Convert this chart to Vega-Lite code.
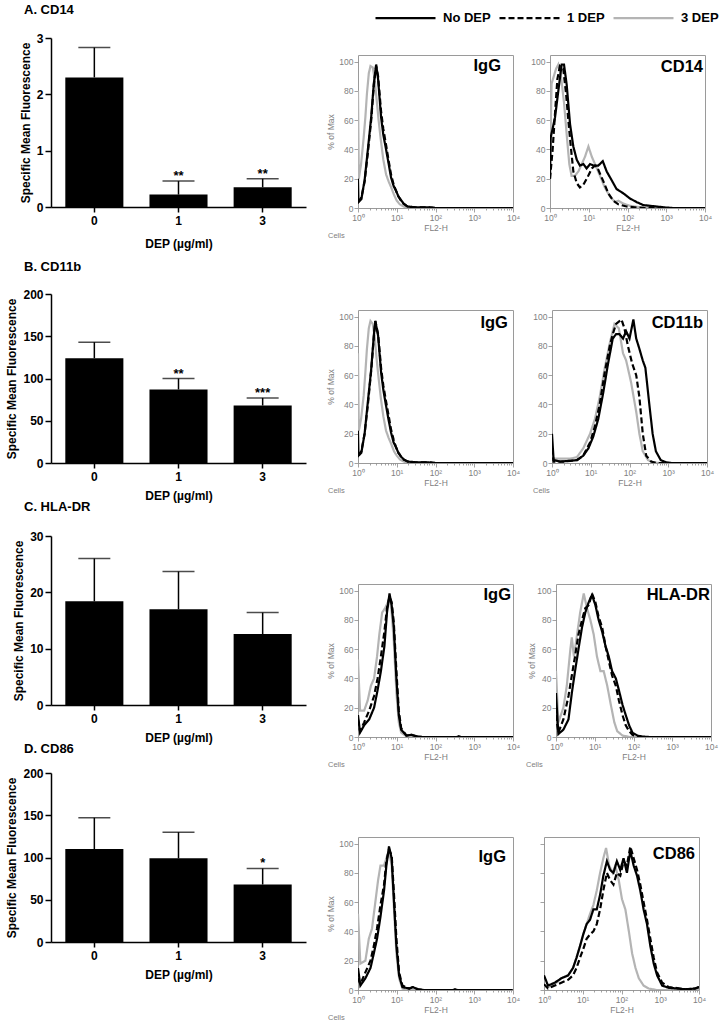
{
"$schema":"https://vega.github.io/schema/vega-lite/v6.json",
"background":"white",
"padding":{"left":5,"top":-14,"right":5,"bottom":2},
"datasets":{
"bars":[
{"panel":"A","dep":"0","mean":2.3,"upper":2.83,"sig":""},
{"panel":"A","dep":"1","mean":0.22,"upper":0.46,"sig":"**"},
{"panel":"A","dep":"3","mean":0.35,"upper":0.5,"sig":"**"},
{"panel":"B","dep":"0","mean":124,"upper":143,"sig":""},
{"panel":"B","dep":"1","mean":87,"upper":100,"sig":"**"},
{"panel":"B","dep":"3","mean":68,"upper":77,"sig":"***"},
{"panel":"C","dep":"0","mean":18.4,"upper":26,"sig":""},
{"panel":"C","dep":"1","mean":17,"upper":23.7,"sig":""},
{"panel":"C","dep":"3","mean":12.6,"upper":16.4,"sig":""},
{"panel":"D","dep":"0","mean":110,"upper":147,"sig":""},
{"panel":"D","dep":"1","mean":99,"upper":130,"sig":""},
{"panel":"D","dep":"3","mean":68,"upper":87,"sig":"*"}
],
"hist":[
{"panel":"A1","dep":"3 DEP","fl":1,"pct":80},{"panel":"A1","dep":"3 DEP","fl":1.05,"pct":20},{"panel":"A1","dep":"3 DEP","fl":1.2,"pct":30},{"panel":"A1","dep":"3 DEP","fl":1.4,"pct":48},{"panel":"A1","dep":"3 DEP","fl":1.55,"pct":62},{"panel":"A1","dep":"3 DEP","fl":1.7,"pct":78},{"panel":"A1","dep":"3 DEP","fl":1.9,"pct":92},{"panel":"A1","dep":"3 DEP","fl":2.1,"pct":97},{"panel":"A1","dep":"3 DEP","fl":2.4,"pct":96},{"panel":"A1","dep":"3 DEP","fl":2.7,"pct":88},{"panel":"A1","dep":"3 DEP","fl":3,"pct":75},{"panel":"A1","dep":"3 DEP","fl":3.4,"pct":60},{"panel":"A1","dep":"3 DEP","fl":3.9,"pct":46},{"panel":"A1","dep":"3 DEP","fl":4.5,"pct":33},{"panel":"A1","dep":"3 DEP","fl":5.3,"pct":23},{"panel":"A1","dep":"3 DEP","fl":6.2,"pct":18},{"panel":"A1","dep":"3 DEP","fl":7.2,"pct":14},{"panel":"A1","dep":"3 DEP","fl":8.5,"pct":9},{"panel":"A1","dep":"3 DEP","fl":10,"pct":5},{"panel":"A1","dep":"3 DEP","fl":12,"pct":2.5},{"panel":"A1","dep":"3 DEP","fl":15,"pct":1},{"panel":"A1","dep":"3 DEP","fl":20,"pct":0},{"panel":"A1","dep":"3 DEP","fl":10000,"pct":0},
{"panel":"A1","dep":"1 DEP","fl":1,"pct":4},{"panel":"A1","dep":"1 DEP","fl":1.22,"pct":7},{"panel":"A1","dep":"1 DEP","fl":1.48,"pct":18},{"panel":"A1","dep":"1 DEP","fl":1.8,"pct":38},{"panel":"A1","dep":"1 DEP","fl":2.19,"pct":60},{"panel":"A1","dep":"1 DEP","fl":2.56,"pct":84},{"panel":"A1","dep":"1 DEP","fl":2.94,"pct":97},{"panel":"A1","dep":"1 DEP","fl":3.3,"pct":90},{"panel":"A1","dep":"1 DEP","fl":3.94,"pct":66},{"panel":"A1","dep":"1 DEP","fl":4.5,"pct":54},{"panel":"A1","dep":"1 DEP","fl":5.3,"pct":43},{"panel":"A1","dep":"1 DEP","fl":6.2,"pct":32},{"panel":"A1","dep":"1 DEP","fl":7.1,"pct":23},{"panel":"A1","dep":"1 DEP","fl":8.3,"pct":16},{"panel":"A1","dep":"1 DEP","fl":9.5,"pct":12},{"panel":"A1","dep":"1 DEP","fl":11,"pct":8},{"panel":"A1","dep":"1 DEP","fl":12.8,"pct":5},{"panel":"A1","dep":"1 DEP","fl":15,"pct":3},{"panel":"A1","dep":"1 DEP","fl":19,"pct":1},{"panel":"A1","dep":"1 DEP","fl":30,"pct":0.5},{"panel":"A1","dep":"1 DEP","fl":70,"pct":0.5},{"panel":"A1","dep":"1 DEP","fl":100,"pct":0},{"panel":"A1","dep":"1 DEP","fl":10000,"pct":0},
{"panel":"A1","dep":"No DEP","fl":1,"pct":20},{"panel":"A1","dep":"No DEP","fl":1.03,"pct":4},{"panel":"A1","dep":"No DEP","fl":1.22,"pct":6},{"panel":"A1","dep":"No DEP","fl":1.48,"pct":19},{"panel":"A1","dep":"No DEP","fl":1.8,"pct":40},{"panel":"A1","dep":"No DEP","fl":2.19,"pct":62},{"panel":"A1","dep":"No DEP","fl":2.56,"pct":85},{"panel":"A1","dep":"No DEP","fl":2.94,"pct":98},{"panel":"A1","dep":"No DEP","fl":3.3,"pct":88},{"panel":"A1","dep":"No DEP","fl":3.94,"pct":62},{"panel":"A1","dep":"No DEP","fl":4.5,"pct":50},{"panel":"A1","dep":"No DEP","fl":5.3,"pct":40},{"panel":"A1","dep":"No DEP","fl":6.2,"pct":30},{"panel":"A1","dep":"No DEP","fl":7.1,"pct":21},{"panel":"A1","dep":"No DEP","fl":8.3,"pct":15},{"panel":"A1","dep":"No DEP","fl":9.5,"pct":12},{"panel":"A1","dep":"No DEP","fl":11,"pct":8},{"panel":"A1","dep":"No DEP","fl":12.8,"pct":5.6},{"panel":"A1","dep":"No DEP","fl":15,"pct":3},{"panel":"A1","dep":"No DEP","fl":19,"pct":1},{"panel":"A1","dep":"No DEP","fl":30,"pct":0.5},{"panel":"A1","dep":"No DEP","fl":60,"pct":0.5},{"panel":"A1","dep":"No DEP","fl":100,"pct":0},{"panel":"A1","dep":"No DEP","fl":10000,"pct":0},

{"panel":"A2","dep":"3 DEP","fl":1,"pct":30},{"panel":"A2","dep":"3 DEP","fl":1.1,"pct":85},{"panel":"A2","dep":"3 DEP","fl":1.43,"pct":95},{"panel":"A2","dep":"3 DEP","fl":1.64,"pct":98},{"panel":"A2","dep":"3 DEP","fl":1.92,"pct":90},{"panel":"A2","dep":"3 DEP","fl":2.3,"pct":72},{"panel":"A2","dep":"3 DEP","fl":2.7,"pct":50},{"panel":"A2","dep":"3 DEP","fl":3.15,"pct":30},{"panel":"A2","dep":"3 DEP","fl":3.6,"pct":22},{"panel":"A2","dep":"3 DEP","fl":4.4,"pct":22},{"panel":"A2","dep":"3 DEP","fl":5.4,"pct":25},{"panel":"A2","dep":"3 DEP","fl":6.6,"pct":30},{"panel":"A2","dep":"3 DEP","fl":8,"pct":35},{"panel":"A2","dep":"3 DEP","fl":9.8,"pct":42},{"panel":"A2","dep":"3 DEP","fl":12,"pct":35},{"panel":"A2","dep":"3 DEP","fl":14.5,"pct":30},{"panel":"A2","dep":"3 DEP","fl":19.5,"pct":22},{"panel":"A2","dep":"3 DEP","fl":26,"pct":14},{"panel":"A2","dep":"3 DEP","fl":35,"pct":8},{"panel":"A2","dep":"3 DEP","fl":48,"pct":4},{"panel":"A2","dep":"3 DEP","fl":58,"pct":5},{"panel":"A2","dep":"3 DEP","fl":78,"pct":3},{"panel":"A2","dep":"3 DEP","fl":116,"pct":1.5},{"panel":"A2","dep":"3 DEP","fl":210,"pct":0.5},{"panel":"A2","dep":"3 DEP","fl":400,"pct":0},{"panel":"A2","dep":"3 DEP","fl":10000,"pct":0},
{"panel":"A2","dep":"1 DEP","fl":1,"pct":20},{"panel":"A2","dep":"1 DEP","fl":1.17,"pct":40},{"panel":"A2","dep":"1 DEP","fl":1.35,"pct":65},{"panel":"A2","dep":"1 DEP","fl":1.55,"pct":88},{"panel":"A2","dep":"1 DEP","fl":1.8,"pct":97},{"panel":"A2","dep":"1 DEP","fl":2.2,"pct":95},{"panel":"A2","dep":"1 DEP","fl":2.6,"pct":78},{"panel":"A2","dep":"1 DEP","fl":2.97,"pct":60},{"panel":"A2","dep":"1 DEP","fl":3.5,"pct":40},{"panel":"A2","dep":"1 DEP","fl":4,"pct":25},{"panel":"A2","dep":"1 DEP","fl":4.9,"pct":17},{"panel":"A2","dep":"1 DEP","fl":5.9,"pct":14},{"panel":"A2","dep":"1 DEP","fl":7.3,"pct":16},{"panel":"A2","dep":"1 DEP","fl":9.3,"pct":21},{"panel":"A2","dep":"1 DEP","fl":12,"pct":27},{"panel":"A2","dep":"1 DEP","fl":14.5,"pct":29},{"panel":"A2","dep":"1 DEP","fl":17.7,"pct":26},{"panel":"A2","dep":"1 DEP","fl":24,"pct":18},{"panel":"A2","dep":"1 DEP","fl":32,"pct":10},{"panel":"A2","dep":"1 DEP","fl":43,"pct":5},{"panel":"A2","dep":"1 DEP","fl":58,"pct":2.5},{"panel":"A2","dep":"1 DEP","fl":95,"pct":1},{"panel":"A2","dep":"1 DEP","fl":180,"pct":0.3},{"panel":"A2","dep":"1 DEP","fl":300,"pct":0},{"panel":"A2","dep":"1 DEP","fl":10000,"pct":0},
{"panel":"A2","dep":"No DEP","fl":1,"pct":20},{"panel":"A2","dep":"No DEP","fl":1.04,"pct":48},{"panel":"A2","dep":"No DEP","fl":1.35,"pct":62},{"panel":"A2","dep":"No DEP","fl":1.64,"pct":80},{"panel":"A2","dep":"No DEP","fl":2,"pct":98},{"panel":"A2","dep":"No DEP","fl":2.3,"pct":98},{"panel":"A2","dep":"No DEP","fl":2.7,"pct":84},{"panel":"A2","dep":"No DEP","fl":3.3,"pct":57},{"panel":"A2","dep":"No DEP","fl":4,"pct":42},{"panel":"A2","dep":"No DEP","fl":4.9,"pct":33},{"panel":"A2","dep":"No DEP","fl":5.9,"pct":29},{"panel":"A2","dep":"No DEP","fl":7.3,"pct":30},{"panel":"A2","dep":"No DEP","fl":8.8,"pct":27},{"panel":"A2","dep":"No DEP","fl":10.8,"pct":30},{"panel":"A2","dep":"No DEP","fl":13.2,"pct":29},{"panel":"A2","dep":"No DEP","fl":17.7,"pct":29},{"panel":"A2","dep":"No DEP","fl":23,"pct":32},{"panel":"A2","dep":"No DEP","fl":29,"pct":25},{"panel":"A2","dep":"No DEP","fl":39,"pct":19},{"panel":"A2","dep":"No DEP","fl":52,"pct":13},{"panel":"A2","dep":"No DEP","fl":78,"pct":10},{"panel":"A2","dep":"No DEP","fl":116,"pct":6.5},{"panel":"A2","dep":"No DEP","fl":173,"pct":4},{"panel":"A2","dep":"No DEP","fl":256,"pct":2},{"panel":"A2","dep":"No DEP","fl":380,"pct":1.5},{"panel":"A2","dep":"No DEP","fl":570,"pct":1},{"panel":"A2","dep":"No DEP","fl":1000,"pct":0.3},{"panel":"A2","dep":"No DEP","fl":1500,"pct":0},{"panel":"A2","dep":"No DEP","fl":10000,"pct":0},

{"panel":"B1","dep":"3 DEP","fl":1,"pct":75},{"panel":"B1","dep":"3 DEP","fl":1.05,"pct":22},{"panel":"B1","dep":"3 DEP","fl":1.2,"pct":30},{"panel":"B1","dep":"3 DEP","fl":1.4,"pct":46},{"panel":"B1","dep":"3 DEP","fl":1.55,"pct":62},{"panel":"B1","dep":"3 DEP","fl":1.7,"pct":78},{"panel":"B1","dep":"3 DEP","fl":1.9,"pct":92},{"panel":"B1","dep":"3 DEP","fl":2.1,"pct":97},{"panel":"B1","dep":"3 DEP","fl":2.4,"pct":95},{"panel":"B1","dep":"3 DEP","fl":2.7,"pct":86},{"panel":"B1","dep":"3 DEP","fl":3,"pct":72},{"panel":"B1","dep":"3 DEP","fl":3.4,"pct":58},{"panel":"B1","dep":"3 DEP","fl":3.9,"pct":44},{"panel":"B1","dep":"3 DEP","fl":4.5,"pct":32},{"panel":"B1","dep":"3 DEP","fl":5.3,"pct":22},{"panel":"B1","dep":"3 DEP","fl":6.2,"pct":17},{"panel":"B1","dep":"3 DEP","fl":7.2,"pct":13},{"panel":"B1","dep":"3 DEP","fl":8.5,"pct":8},{"panel":"B1","dep":"3 DEP","fl":10,"pct":5},{"panel":"B1","dep":"3 DEP","fl":12,"pct":2.5},{"panel":"B1","dep":"3 DEP","fl":15,"pct":1},{"panel":"B1","dep":"3 DEP","fl":20,"pct":0},{"panel":"B1","dep":"3 DEP","fl":10000,"pct":0},
{"panel":"B1","dep":"1 DEP","fl":1,"pct":5},{"panel":"B1","dep":"1 DEP","fl":1.22,"pct":8},{"panel":"B1","dep":"1 DEP","fl":1.48,"pct":20},{"panel":"B1","dep":"1 DEP","fl":1.8,"pct":40},{"panel":"B1","dep":"1 DEP","fl":2.19,"pct":63},{"panel":"B1","dep":"1 DEP","fl":2.56,"pct":86},{"panel":"B1","dep":"1 DEP","fl":2.8,"pct":97},{"panel":"B1","dep":"1 DEP","fl":3.3,"pct":88},{"panel":"B1","dep":"1 DEP","fl":3.94,"pct":65},{"panel":"B1","dep":"1 DEP","fl":4.5,"pct":53},{"panel":"B1","dep":"1 DEP","fl":5.3,"pct":42},{"panel":"B1","dep":"1 DEP","fl":6.2,"pct":32},{"panel":"B1","dep":"1 DEP","fl":7.1,"pct":23},{"panel":"B1","dep":"1 DEP","fl":8.3,"pct":16},{"panel":"B1","dep":"1 DEP","fl":9.5,"pct":11},{"panel":"B1","dep":"1 DEP","fl":11,"pct":7},{"panel":"B1","dep":"1 DEP","fl":12.8,"pct":4.5},{"panel":"B1","dep":"1 DEP","fl":15,"pct":2.5},{"panel":"B1","dep":"1 DEP","fl":19,"pct":1},{"panel":"B1","dep":"1 DEP","fl":30,"pct":0.5},{"panel":"B1","dep":"1 DEP","fl":70,"pct":0.5},{"panel":"B1","dep":"1 DEP","fl":100,"pct":0},{"panel":"B1","dep":"1 DEP","fl":10000,"pct":0},
{"panel":"B1","dep":"No DEP","fl":1,"pct":22},{"panel":"B1","dep":"No DEP","fl":1.03,"pct":5},{"panel":"B1","dep":"No DEP","fl":1.22,"pct":7},{"panel":"B1","dep":"No DEP","fl":1.48,"pct":20},{"panel":"B1","dep":"No DEP","fl":1.8,"pct":42},{"panel":"B1","dep":"No DEP","fl":2.19,"pct":64},{"panel":"B1","dep":"No DEP","fl":2.56,"pct":87},{"panel":"B1","dep":"No DEP","fl":2.8,"pct":97},{"panel":"B1","dep":"No DEP","fl":3.3,"pct":87},{"panel":"B1","dep":"No DEP","fl":3.94,"pct":62},{"panel":"B1","dep":"No DEP","fl":4.5,"pct":50},{"panel":"B1","dep":"No DEP","fl":5.3,"pct":39},{"panel":"B1","dep":"No DEP","fl":6.2,"pct":29},{"panel":"B1","dep":"No DEP","fl":7.1,"pct":21},{"panel":"B1","dep":"No DEP","fl":8.3,"pct":14},{"panel":"B1","dep":"No DEP","fl":9.5,"pct":11},{"panel":"B1","dep":"No DEP","fl":11,"pct":7},{"panel":"B1","dep":"No DEP","fl":12.8,"pct":4.5},{"panel":"B1","dep":"No DEP","fl":15,"pct":2.5},{"panel":"B1","dep":"No DEP","fl":19,"pct":1},{"panel":"B1","dep":"No DEP","fl":30,"pct":0.5},{"panel":"B1","dep":"No DEP","fl":60,"pct":0.5},{"panel":"B1","dep":"No DEP","fl":100,"pct":0},{"panel":"B1","dep":"No DEP","fl":10000,"pct":0},

{"panel":"B2","dep":"3 DEP","fl":1,"pct":5},{"panel":"B2","dep":"3 DEP","fl":1.1,"pct":3},{"panel":"B2","dep":"3 DEP","fl":2,"pct":3},{"panel":"B2","dep":"3 DEP","fl":3,"pct":3},{"panel":"B2","dep":"3 DEP","fl":4.4,"pct":4},{"panel":"B2","dep":"3 DEP","fl":6.4,"pct":10},{"panel":"B2","dep":"3 DEP","fl":9.6,"pct":20},{"panel":"B2","dep":"3 DEP","fl":12.8,"pct":30},{"panel":"B2","dep":"3 DEP","fl":17,"pct":45},{"panel":"B2","dep":"3 DEP","fl":23,"pct":65},{"panel":"B2","dep":"3 DEP","fl":31,"pct":82},{"panel":"B2","dep":"3 DEP","fl":41,"pct":95},{"panel":"B2","dep":"3 DEP","fl":53,"pct":92},{"panel":"B2","dep":"3 DEP","fl":68,"pct":75},{"panel":"B2","dep":"3 DEP","fl":82,"pct":70},{"panel":"B2","dep":"3 DEP","fl":110,"pct":55},{"panel":"B2","dep":"3 DEP","fl":149,"pct":35},{"panel":"B2","dep":"3 DEP","fl":180,"pct":20},{"panel":"B2","dep":"3 DEP","fl":220,"pct":8},{"panel":"B2","dep":"3 DEP","fl":300,"pct":2},{"panel":"B2","dep":"3 DEP","fl":400,"pct":0.5},{"panel":"B2","dep":"3 DEP","fl":600,"pct":0},{"panel":"B2","dep":"3 DEP","fl":10000,"pct":0},
{"panel":"B2","dep":"1 DEP","fl":1,"pct":10},{"panel":"B2","dep":"1 DEP","fl":1.1,"pct":1},{"panel":"B2","dep":"1 DEP","fl":2,"pct":1},{"panel":"B2","dep":"1 DEP","fl":3,"pct":1.5},{"panel":"B2","dep":"1 DEP","fl":4.4,"pct":2},{"panel":"B2","dep":"1 DEP","fl":6.4,"pct":5},{"panel":"B2","dep":"1 DEP","fl":9.6,"pct":14},{"panel":"B2","dep":"1 DEP","fl":12.8,"pct":25},{"panel":"B2","dep":"1 DEP","fl":17,"pct":40},{"panel":"B2","dep":"1 DEP","fl":23,"pct":62},{"panel":"B2","dep":"1 DEP","fl":31,"pct":80},{"panel":"B2","dep":"1 DEP","fl":37,"pct":88},{"panel":"B2","dep":"1 DEP","fl":45,"pct":95},{"panel":"B2","dep":"1 DEP","fl":62,"pct":98},{"panel":"B2","dep":"1 DEP","fl":74,"pct":92},{"panel":"B2","dep":"1 DEP","fl":91,"pct":80},{"panel":"B2","dep":"1 DEP","fl":117,"pct":68},{"panel":"B2","dep":"1 DEP","fl":149,"pct":60},{"panel":"B2","dep":"1 DEP","fl":180,"pct":45},{"panel":"B2","dep":"1 DEP","fl":220,"pct":20},{"panel":"B2","dep":"1 DEP","fl":270,"pct":5},{"panel":"B2","dep":"1 DEP","fl":360,"pct":1},{"panel":"B2","dep":"1 DEP","fl":500,"pct":0},{"panel":"B2","dep":"1 DEP","fl":10000,"pct":0},
{"panel":"B2","dep":"No DEP","fl":1,"pct":20},{"panel":"B2","dep":"No DEP","fl":1.1,"pct":2},{"panel":"B2","dep":"No DEP","fl":1.63,"pct":1},{"panel":"B2","dep":"No DEP","fl":2.97,"pct":1.5},{"panel":"B2","dep":"No DEP","fl":4.4,"pct":2},{"panel":"B2","dep":"No DEP","fl":6.4,"pct":5},{"panel":"B2","dep":"No DEP","fl":8.7,"pct":10},{"panel":"B2","dep":"No DEP","fl":11.6,"pct":18},{"panel":"B2","dep":"No DEP","fl":15.6,"pct":30},{"panel":"B2","dep":"No DEP","fl":21,"pct":48},{"panel":"B2","dep":"No DEP","fl":28,"pct":68},{"panel":"B2","dep":"No DEP","fl":37,"pct":85},{"panel":"B2","dep":"No DEP","fl":45,"pct":88},{"panel":"B2","dep":"No DEP","fl":55,"pct":88},{"panel":"B2","dep":"No DEP","fl":68,"pct":85},{"panel":"B2","dep":"No DEP","fl":82,"pct":90},{"panel":"B2","dep":"No DEP","fl":100,"pct":85},{"panel":"B2","dep":"No DEP","fl":126,"pct":98},{"panel":"B2","dep":"No DEP","fl":149,"pct":85},{"panel":"B2","dep":"No DEP","fl":180,"pct":78},{"panel":"B2","dep":"No DEP","fl":220,"pct":70},{"panel":"B2","dep":"No DEP","fl":257,"pct":65},{"panel":"B2","dep":"No DEP","fl":325,"pct":40},{"panel":"B2","dep":"No DEP","fl":395,"pct":20},{"panel":"B2","dep":"No DEP","fl":480,"pct":8},{"panel":"B2","dep":"No DEP","fl":640,"pct":2},{"panel":"B2","dep":"No DEP","fl":870,"pct":0.5},{"panel":"B2","dep":"No DEP","fl":1200,"pct":0},{"panel":"B2","dep":"No DEP","fl":10000,"pct":0},

{"panel":"C1","dep":"3 DEP","fl":1,"pct":53},{"panel":"C1","dep":"3 DEP","fl":1.13,"pct":18},{"panel":"C1","dep":"3 DEP","fl":1.44,"pct":18},{"panel":"C1","dep":"3 DEP","fl":1.78,"pct":25},{"panel":"C1","dep":"3 DEP","fl":2.15,"pct":35},{"panel":"C1","dep":"3 DEP","fl":2.6,"pct":40},{"panel":"C1","dep":"3 DEP","fl":3.1,"pct":55},{"panel":"C1","dep":"3 DEP","fl":3.55,"pct":70},{"panel":"C1","dep":"3 DEP","fl":4.2,"pct":85},{"panel":"C1","dep":"3 DEP","fl":5,"pct":88},{"panel":"C1","dep":"3 DEP","fl":5.9,"pct":92},{"panel":"C1","dep":"3 DEP","fl":6.6,"pct":95},{"panel":"C1","dep":"3 DEP","fl":7.4,"pct":85},{"panel":"C1","dep":"3 DEP","fl":8.4,"pct":65},{"panel":"C1","dep":"3 DEP","fl":9.8,"pct":30},{"panel":"C1","dep":"3 DEP","fl":11.3,"pct":10},{"panel":"C1","dep":"3 DEP","fl":13,"pct":3},{"panel":"C1","dep":"3 DEP","fl":17.8,"pct":0.5},{"panel":"C1","dep":"3 DEP","fl":25,"pct":0},{"panel":"C1","dep":"3 DEP","fl":10000,"pct":0},
{"panel":"C1","dep":"1 DEP","fl":1,"pct":12},{"panel":"C1","dep":"1 DEP","fl":1.13,"pct":4},{"panel":"C1","dep":"1 DEP","fl":1.44,"pct":10},{"panel":"C1","dep":"1 DEP","fl":1.94,"pct":18},{"panel":"C1","dep":"1 DEP","fl":2.6,"pct":28},{"panel":"C1","dep":"1 DEP","fl":3.2,"pct":40},{"panel":"C1","dep":"1 DEP","fl":3.9,"pct":55},{"panel":"C1","dep":"1 DEP","fl":4.8,"pct":72},{"panel":"C1","dep":"1 DEP","fl":5.6,"pct":88},{"panel":"C1","dep":"1 DEP","fl":6.5,"pct":96},{"panel":"C1","dep":"1 DEP","fl":7.4,"pct":92},{"panel":"C1","dep":"1 DEP","fl":8.4,"pct":78},{"panel":"C1","dep":"1 DEP","fl":9.8,"pct":45},{"panel":"C1","dep":"1 DEP","fl":11.3,"pct":18},{"panel":"C1","dep":"1 DEP","fl":13,"pct":6},{"panel":"C1","dep":"1 DEP","fl":17.8,"pct":1},{"panel":"C1","dep":"1 DEP","fl":24,"pct":1.5},{"panel":"C1","dep":"1 DEP","fl":32,"pct":0.5},{"panel":"C1","dep":"1 DEP","fl":45,"pct":0},{"panel":"C1","dep":"1 DEP","fl":10000,"pct":0},
{"panel":"C1","dep":"No DEP","fl":1,"pct":15},{"panel":"C1","dep":"No DEP","fl":1.13,"pct":3},{"panel":"C1","dep":"No DEP","fl":1.44,"pct":8},{"panel":"C1","dep":"No DEP","fl":1.94,"pct":12},{"panel":"C1","dep":"No DEP","fl":2.6,"pct":20},{"panel":"C1","dep":"No DEP","fl":3.2,"pct":32},{"panel":"C1","dep":"No DEP","fl":3.9,"pct":45},{"panel":"C1","dep":"No DEP","fl":4.8,"pct":62},{"panel":"C1","dep":"No DEP","fl":5.6,"pct":85},{"panel":"C1","dep":"No DEP","fl":6.5,"pct":98},{"panel":"C1","dep":"No DEP","fl":7.4,"pct":90},{"panel":"C1","dep":"No DEP","fl":8.4,"pct":75},{"panel":"C1","dep":"No DEP","fl":9.8,"pct":40},{"panel":"C1","dep":"No DEP","fl":11.3,"pct":15},{"panel":"C1","dep":"No DEP","fl":13,"pct":5},{"panel":"C1","dep":"No DEP","fl":17.8,"pct":1},{"panel":"C1","dep":"No DEP","fl":24,"pct":1.5},{"panel":"C1","dep":"No DEP","fl":32,"pct":0.5},{"panel":"C1","dep":"No DEP","fl":45,"pct":0},{"panel":"C1","dep":"No DEP","fl":350,"pct":0},{"panel":"C1","dep":"No DEP","fl":400,"pct":0.5},{"panel":"C1","dep":"No DEP","fl":450,"pct":0},{"panel":"C1","dep":"No DEP","fl":10000,"pct":0},

{"panel":"C2","dep":"3 DEP","fl":1,"pct":45},{"panel":"C2","dep":"3 DEP","fl":1.15,"pct":10},{"panel":"C2","dep":"3 DEP","fl":1.55,"pct":20},{"panel":"C2","dep":"3 DEP","fl":1.9,"pct":35},{"panel":"C2","dep":"3 DEP","fl":2.35,"pct":60},{"panel":"C2","dep":"3 DEP","fl":2.56,"pct":68},{"panel":"C2","dep":"3 DEP","fl":2.9,"pct":55},{"panel":"C2","dep":"3 DEP","fl":3.5,"pct":70},{"panel":"C2","dep":"3 DEP","fl":4.2,"pct":85},{"panel":"C2","dep":"3 DEP","fl":5.2,"pct":98},{"panel":"C2","dep":"3 DEP","fl":6.3,"pct":88},{"panel":"C2","dep":"3 DEP","fl":7.7,"pct":80},{"panel":"C2","dep":"3 DEP","fl":9.4,"pct":70},{"panel":"C2","dep":"3 DEP","fl":11.4,"pct":55},{"panel":"C2","dep":"3 DEP","fl":14,"pct":45},{"panel":"C2","dep":"3 DEP","fl":17,"pct":45},{"panel":"C2","dep":"3 DEP","fl":21,"pct":35},{"panel":"C2","dep":"3 DEP","fl":26,"pct":22},{"panel":"C2","dep":"3 DEP","fl":32,"pct":10},{"panel":"C2","dep":"3 DEP","fl":38,"pct":4},{"panel":"C2","dep":"3 DEP","fl":52,"pct":1},{"panel":"C2","dep":"3 DEP","fl":80,"pct":0},{"panel":"C2","dep":"3 DEP","fl":10000,"pct":0},
{"panel":"C2","dep":"1 DEP","fl":1,"pct":15},{"panel":"C2","dep":"1 DEP","fl":1.15,"pct":3},{"panel":"C2","dep":"1 DEP","fl":1.55,"pct":12},{"panel":"C2","dep":"1 DEP","fl":2.1,"pct":28},{"panel":"C2","dep":"1 DEP","fl":2.56,"pct":42},{"panel":"C2","dep":"1 DEP","fl":3.1,"pct":55},{"panel":"C2","dep":"1 DEP","fl":3.8,"pct":70},{"panel":"C2","dep":"1 DEP","fl":4.7,"pct":80},{"panel":"C2","dep":"1 DEP","fl":5.7,"pct":88},{"panel":"C2","dep":"1 DEP","fl":6.97,"pct":90},{"panel":"C2","dep":"1 DEP","fl":8.5,"pct":98},{"panel":"C2","dep":"1 DEP","fl":10.4,"pct":92},{"panel":"C2","dep":"1 DEP","fl":12.6,"pct":82},{"panel":"C2","dep":"1 DEP","fl":15.5,"pct":75},{"panel":"C2","dep":"1 DEP","fl":19,"pct":62},{"panel":"C2","dep":"1 DEP","fl":23,"pct":52},{"panel":"C2","dep":"1 DEP","fl":28,"pct":42},{"panel":"C2","dep":"1 DEP","fl":35,"pct":35},{"panel":"C2","dep":"1 DEP","fl":42,"pct":25},{"panel":"C2","dep":"1 DEP","fl":52,"pct":15},{"panel":"C2","dep":"1 DEP","fl":63,"pct":8},{"panel":"C2","dep":"1 DEP","fl":77,"pct":4},{"panel":"C2","dep":"1 DEP","fl":94,"pct":1.5},{"panel":"C2","dep":"1 DEP","fl":130,"pct":0},{"panel":"C2","dep":"1 DEP","fl":10000,"pct":0},
{"panel":"C2","dep":"No DEP","fl":1,"pct":30},{"panel":"C2","dep":"No DEP","fl":1.15,"pct":2},{"panel":"C2","dep":"No DEP","fl":1.55,"pct":5},{"panel":"C2","dep":"No DEP","fl":2.1,"pct":12},{"panel":"C2","dep":"No DEP","fl":2.56,"pct":30},{"panel":"C2","dep":"No DEP","fl":3.1,"pct":45},{"panel":"C2","dep":"No DEP","fl":3.8,"pct":60},{"panel":"C2","dep":"No DEP","fl":4.7,"pct":75},{"panel":"C2","dep":"No DEP","fl":5.7,"pct":85},{"panel":"C2","dep":"No DEP","fl":6.97,"pct":92},{"panel":"C2","dep":"No DEP","fl":8.5,"pct":97},{"panel":"C2","dep":"No DEP","fl":10.4,"pct":90},{"panel":"C2","dep":"No DEP","fl":12.6,"pct":80},{"panel":"C2","dep":"No DEP","fl":15.5,"pct":72},{"panel":"C2","dep":"No DEP","fl":19,"pct":62},{"panel":"C2","dep":"No DEP","fl":23,"pct":55},{"panel":"C2","dep":"No DEP","fl":28,"pct":45},{"panel":"C2","dep":"No DEP","fl":35,"pct":40},{"panel":"C2","dep":"No DEP","fl":42,"pct":32},{"panel":"C2","dep":"No DEP","fl":52,"pct":22},{"panel":"C2","dep":"No DEP","fl":63,"pct":15},{"panel":"C2","dep":"No DEP","fl":77,"pct":8},{"panel":"C2","dep":"No DEP","fl":94,"pct":3},{"panel":"C2","dep":"No DEP","fl":126,"pct":1},{"panel":"C2","dep":"No DEP","fl":170,"pct":0.3},{"panel":"C2","dep":"No DEP","fl":250,"pct":0},{"panel":"C2","dep":"No DEP","fl":10000,"pct":0},

{"panel":"D1","dep":"3 DEP","fl":1,"pct":52},{"panel":"D1","dep":"3 DEP","fl":1.15,"pct":18},{"panel":"D1","dep":"3 DEP","fl":1.55,"pct":20},{"panel":"D1","dep":"3 DEP","fl":1.9,"pct":35},{"panel":"D1","dep":"3 DEP","fl":2.3,"pct":42},{"panel":"D1","dep":"3 DEP","fl":2.8,"pct":60},{"panel":"D1","dep":"3 DEP","fl":3.3,"pct":75},{"panel":"D1","dep":"3 DEP","fl":3.8,"pct":85},{"panel":"D1","dep":"3 DEP","fl":4.7,"pct":85},{"panel":"D1","dep":"3 DEP","fl":5.4,"pct":90},{"panel":"D1","dep":"3 DEP","fl":6.3,"pct":95},{"panel":"D1","dep":"3 DEP","fl":7.4,"pct":85},{"panel":"D1","dep":"3 DEP","fl":8.5,"pct":55},{"panel":"D1","dep":"3 DEP","fl":9.8,"pct":25},{"panel":"D1","dep":"3 DEP","fl":11.5,"pct":8},{"panel":"D1","dep":"3 DEP","fl":14,"pct":1},{"panel":"D1","dep":"3 DEP","fl":20,"pct":0},{"panel":"D1","dep":"3 DEP","fl":10000,"pct":0},
{"panel":"D1","dep":"1 DEP","fl":1,"pct":8},{"panel":"D1","dep":"1 DEP","fl":1.15,"pct":4},{"panel":"D1","dep":"1 DEP","fl":1.55,"pct":12},{"panel":"D1","dep":"1 DEP","fl":2.1,"pct":20},{"panel":"D1","dep":"1 DEP","fl":2.56,"pct":30},{"panel":"D1","dep":"1 DEP","fl":3.1,"pct":42},{"panel":"D1","dep":"1 DEP","fl":3.8,"pct":58},{"panel":"D1","dep":"1 DEP","fl":4.7,"pct":72},{"panel":"D1","dep":"1 DEP","fl":5.4,"pct":88},{"panel":"D1","dep":"1 DEP","fl":6.3,"pct":96},{"panel":"D1","dep":"1 DEP","fl":7.4,"pct":92},{"panel":"D1","dep":"1 DEP","fl":8.5,"pct":65},{"panel":"D1","dep":"1 DEP","fl":9.8,"pct":35},{"panel":"D1","dep":"1 DEP","fl":11.5,"pct":12},{"panel":"D1","dep":"1 DEP","fl":14,"pct":3},{"panel":"D1","dep":"1 DEP","fl":21,"pct":1},{"panel":"D1","dep":"1 DEP","fl":26,"pct":2},{"panel":"D1","dep":"1 DEP","fl":35,"pct":0.5},{"panel":"D1","dep":"1 DEP","fl":50,"pct":0},{"panel":"D1","dep":"1 DEP","fl":10000,"pct":0},
{"panel":"D1","dep":"No DEP","fl":1,"pct":15},{"panel":"D1","dep":"No DEP","fl":1.15,"pct":3},{"panel":"D1","dep":"No DEP","fl":1.55,"pct":8},{"panel":"D1","dep":"No DEP","fl":2.1,"pct":15},{"panel":"D1","dep":"No DEP","fl":2.56,"pct":25},{"panel":"D1","dep":"No DEP","fl":3.1,"pct":35},{"panel":"D1","dep":"No DEP","fl":3.8,"pct":50},{"panel":"D1","dep":"No DEP","fl":4.7,"pct":68},{"panel":"D1","dep":"No DEP","fl":5.4,"pct":85},{"panel":"D1","dep":"No DEP","fl":6.3,"pct":98},{"panel":"D1","dep":"No DEP","fl":7.4,"pct":90},{"panel":"D1","dep":"No DEP","fl":8.5,"pct":60},{"panel":"D1","dep":"No DEP","fl":9.8,"pct":30},{"panel":"D1","dep":"No DEP","fl":11.5,"pct":10},{"panel":"D1","dep":"No DEP","fl":14,"pct":2},{"panel":"D1","dep":"No DEP","fl":21,"pct":1},{"panel":"D1","dep":"No DEP","fl":26,"pct":2},{"panel":"D1","dep":"No DEP","fl":35,"pct":0.5},{"panel":"D1","dep":"No DEP","fl":50,"pct":0},{"panel":"D1","dep":"No DEP","fl":280,"pct":0},{"panel":"D1","dep":"No DEP","fl":320,"pct":0.5},{"panel":"D1","dep":"No DEP","fl":370,"pct":0},{"panel":"D1","dep":"No DEP","fl":10000,"pct":0},

{"panel":"D2","dep":"3 DEP","fl":1,"pct":3},{"panel":"D2","dep":"3 DEP","fl":1.27,"pct":2},{"panel":"D2","dep":"3 DEP","fl":1.9,"pct":4},{"panel":"D2","dep":"3 DEP","fl":2.8,"pct":8},{"panel":"D2","dep":"3 DEP","fl":4.2,"pct":10},{"panel":"D2","dep":"3 DEP","fl":5.6,"pct":15},{"panel":"D2","dep":"3 DEP","fl":6.9,"pct":22},{"panel":"D2","dep":"3 DEP","fl":8.5,"pct":30},{"panel":"D2","dep":"3 DEP","fl":10.3,"pct":38},{"panel":"D2","dep":"3 DEP","fl":12.6,"pct":45},{"panel":"D2","dep":"3 DEP","fl":15.4,"pct":52},{"panel":"D2","dep":"3 DEP","fl":18.8,"pct":58},{"panel":"D2","dep":"3 DEP","fl":23,"pct":68},{"panel":"D2","dep":"3 DEP","fl":28,"pct":80},{"panel":"D2","dep":"3 DEP","fl":34,"pct":90},{"panel":"D2","dep":"3 DEP","fl":40,"pct":97},{"panel":"D2","dep":"3 DEP","fl":48,"pct":85},{"panel":"D2","dep":"3 DEP","fl":59,"pct":80},{"panel":"D2","dep":"3 DEP","fl":69,"pct":85},{"panel":"D2","dep":"3 DEP","fl":85,"pct":75},{"panel":"D2","dep":"3 DEP","fl":103,"pct":62},{"panel":"D2","dep":"3 DEP","fl":126,"pct":55},{"panel":"D2","dep":"3 DEP","fl":155,"pct":40},{"panel":"D2","dep":"3 DEP","fl":188,"pct":25},{"panel":"D2","dep":"3 DEP","fl":230,"pct":15},{"panel":"D2","dep":"3 DEP","fl":280,"pct":8},{"panel":"D2","dep":"3 DEP","fl":372,"pct":3},{"panel":"D2","dep":"3 DEP","fl":500,"pct":1},{"panel":"D2","dep":"3 DEP","fl":800,"pct":0},{"panel":"D2","dep":"3 DEP","fl":10000,"pct":0},
{"panel":"D2","dep":"1 DEP","fl":1,"pct":4},{"panel":"D2","dep":"1 DEP","fl":1.27,"pct":1},{"panel":"D2","dep":"1 DEP","fl":1.9,"pct":3},{"panel":"D2","dep":"1 DEP","fl":2.8,"pct":5},{"panel":"D2","dep":"1 DEP","fl":4.2,"pct":7},{"panel":"D2","dep":"1 DEP","fl":5.6,"pct":10},{"panel":"D2","dep":"1 DEP","fl":6.9,"pct":15},{"panel":"D2","dep":"1 DEP","fl":8.5,"pct":22},{"panel":"D2","dep":"1 DEP","fl":10.3,"pct":28},{"panel":"D2","dep":"1 DEP","fl":12.6,"pct":35},{"panel":"D2","dep":"1 DEP","fl":15.4,"pct":38},{"panel":"D2","dep":"1 DEP","fl":18.8,"pct":40},{"panel":"D2","dep":"1 DEP","fl":23,"pct":45},{"panel":"D2","dep":"1 DEP","fl":28,"pct":55},{"panel":"D2","dep":"1 DEP","fl":34,"pct":68},{"panel":"D2","dep":"1 DEP","fl":42,"pct":80},{"panel":"D2","dep":"1 DEP","fl":51,"pct":75},{"panel":"D2","dep":"1 DEP","fl":62,"pct":72},{"panel":"D2","dep":"1 DEP","fl":76,"pct":80},{"panel":"D2","dep":"1 DEP","fl":93,"pct":78},{"panel":"D2","dep":"1 DEP","fl":113,"pct":88},{"panel":"D2","dep":"1 DEP","fl":138,"pct":85},{"panel":"D2","dep":"1 DEP","fl":169,"pct":98},{"panel":"D2","dep":"1 DEP","fl":206,"pct":90},{"panel":"D2","dep":"1 DEP","fl":252,"pct":82},{"panel":"D2","dep":"1 DEP","fl":305,"pct":72},{"panel":"D2","dep":"1 DEP","fl":372,"pct":60},{"panel":"D2","dep":"1 DEP","fl":455,"pct":48},{"panel":"D2","dep":"1 DEP","fl":555,"pct":35},{"panel":"D2","dep":"1 DEP","fl":680,"pct":22},{"panel":"D2","dep":"1 DEP","fl":830,"pct":12},{"panel":"D2","dep":"1 DEP","fl":1120,"pct":5},{"panel":"D2","dep":"1 DEP","fl":1660,"pct":2},{"panel":"D2","dep":"1 DEP","fl":4500,"pct":0.5},{"panel":"D2","dep":"1 DEP","fl":8000,"pct":1},{"panel":"D2","dep":"1 DEP","fl":10000,"pct":2},
{"panel":"D2","dep":"No DEP","fl":1,"pct":10},{"panel":"D2","dep":"No DEP","fl":1.27,"pct":3},{"panel":"D2","dep":"No DEP","fl":1.9,"pct":5},{"panel":"D2","dep":"No DEP","fl":2.8,"pct":8},{"panel":"D2","dep":"No DEP","fl":4.2,"pct":10},{"panel":"D2","dep":"No DEP","fl":5.6,"pct":15},{"panel":"D2","dep":"No DEP","fl":6.9,"pct":22},{"panel":"D2","dep":"No DEP","fl":8.5,"pct":30},{"panel":"D2","dep":"No DEP","fl":10.3,"pct":38},{"panel":"D2","dep":"No DEP","fl":12.6,"pct":45},{"panel":"D2","dep":"No DEP","fl":15.4,"pct":48},{"panel":"D2","dep":"No DEP","fl":18.8,"pct":55},{"panel":"D2","dep":"No DEP","fl":23,"pct":55},{"panel":"D2","dep":"No DEP","fl":28,"pct":65},{"panel":"D2","dep":"No DEP","fl":34,"pct":78},{"panel":"D2","dep":"No DEP","fl":42,"pct":88},{"panel":"D2","dep":"No DEP","fl":51,"pct":82},{"panel":"D2","dep":"No DEP","fl":62,"pct":80},{"panel":"D2","dep":"No DEP","fl":76,"pct":88},{"panel":"D2","dep":"No DEP","fl":93,"pct":82},{"panel":"D2","dep":"No DEP","fl":113,"pct":90},{"panel":"D2","dep":"No DEP","fl":138,"pct":80},{"panel":"D2","dep":"No DEP","fl":169,"pct":95},{"panel":"D2","dep":"No DEP","fl":206,"pct":85},{"panel":"D2","dep":"No DEP","fl":252,"pct":78},{"panel":"D2","dep":"No DEP","fl":305,"pct":68},{"panel":"D2","dep":"No DEP","fl":372,"pct":55},{"panel":"D2","dep":"No DEP","fl":455,"pct":45},{"panel":"D2","dep":"No DEP","fl":555,"pct":30},{"panel":"D2","dep":"No DEP","fl":680,"pct":18},{"panel":"D2","dep":"No DEP","fl":830,"pct":10},{"panel":"D2","dep":"No DEP","fl":1120,"pct":3},{"panel":"D2","dep":"No DEP","fl":1660,"pct":1.5},{"panel":"D2","dep":"No DEP","fl":4500,"pct":0.5},{"panel":"D2","dep":"No DEP","fl":8000,"pct":1},{"panel":"D2","dep":"No DEP","fl":10000,"pct":2}
],
"spacer":[]
},
"align":"none",
"spacing":20,
"hconcat":[
{
"align":"each",
"spacing":0,
"vconcat":[
{"width":255,"height":169,"view":{"stroke":null},
"title":{"text":"A. CD14","anchor":"start","frame":"group","dx":-27,"fontSize":13,"fontWeight":"bold","color":"black","offset":15},
"data":{"name":"bars"},"transform":[{"filter":"datum.panel == 'A'"}],
"encoding":{"x":{"field":"dep","type":"ordinal","sort":["0","1","3"],"scale":{"paddingInner":0.31,"paddingOuter":0.17},"axis":{"title":["DEP (µg/ml)"," "],"titleLineHeight":12,"labelAngle":0,"labelFontSize":12,"labelFontWeight":"bold","labelColor":"black","titleFontSize":12,"titleFontWeight":"bold","titleColor":"black","domain":true,"domainColor":"black","domainWidth":1.5,"tickColor":"black","tickWidth":1.5,"tickSize":5,"labelPadding":3,"titlePadding":12}}},
"layer":[
{"mark":{"type":"bar","color":"black"},"encoding":{"y":{"field":"mean","type":"quantitative","title":"Specific Mean Fluorescence","scale":{"domain":[0,3],"nice":false},"axis":{"values":[0,1,2,3],"format":"d","labelFontSize":12,"labelFontWeight":"bold","labelColor":"black","titleFontSize":12,"titleFontWeight":"bold","titleColor":"black","domain":true,"domainColor":"black","domainWidth":1.5,"tickColor":"black","tickWidth":1.5,"tickSize":6,"labelPadding":2,"titlePadding":4}}}},
{"mark":{"type":"rule","color":"black","strokeWidth":1.5},"encoding":{"y":{"field":"mean","type":"quantitative","title":"Specific Mean Fluorescence"},"y2":{"field":"upper"}}},
{"mark":{"type":"tick","color":"black","thickness":1.5,"size":32},"encoding":{"y":{"field":"upper","type":"quantitative","title":"Specific Mean Fluorescence"}}},
{"mark":{"type":"text","fontSize":13,"fontWeight":"bold","baseline":"alphabetic","dy":-1},"encoding":{"y":{"field":"upper","type":"quantitative","title":"Specific Mean Fluorescence"},"text":{"field":"sig"}}}
]},
{"width":255,"height":169,"view":{"stroke":null},
"title":{"text":"B. CD11b","anchor":"start","frame":"group","dx":-27,"fontSize":13,"fontWeight":"bold","color":"black","offset":14},
"data":{"name":"bars"},"transform":[{"filter":"datum.panel == 'B'"}],
"encoding":{"x":{"field":"dep","type":"ordinal","sort":["0","1","3"],"scale":{"paddingInner":0.31,"paddingOuter":0.17},"axis":{"title":"DEP (µg/ml)","labelAngle":0,"labelFontSize":12,"labelFontWeight":"bold","labelColor":"black","titleFontSize":12,"titleFontWeight":"bold","titleColor":"black","domain":true,"domainColor":"black","domainWidth":1.5,"tickColor":"black","tickWidth":1.5,"tickSize":5,"labelPadding":3,"titlePadding":8}}},
"layer":[
{"mark":{"type":"bar","color":"black"},"encoding":{"y":{"field":"mean","type":"quantitative","title":"Specific Mean Fluorescence","scale":{"domain":[0,200],"nice":false},"axis":{"values":[0,50,100,150,200],"format":"d","labelFontSize":12,"labelFontWeight":"bold","labelColor":"black","titleFontSize":12,"titleFontWeight":"bold","titleColor":"black","domain":true,"domainColor":"black","domainWidth":1.5,"tickColor":"black","tickWidth":1.5,"tickSize":6,"labelPadding":2,"titlePadding":4}}}},
{"mark":{"type":"rule","color":"black","strokeWidth":1.5},"encoding":{"y":{"field":"mean","type":"quantitative","title":"Specific Mean Fluorescence"},"y2":{"field":"upper"}}},
{"mark":{"type":"tick","color":"black","thickness":1.5,"size":32},"encoding":{"y":{"field":"upper","type":"quantitative","title":"Specific Mean Fluorescence"}}},
{"mark":{"type":"text","fontSize":13,"fontWeight":"bold","baseline":"alphabetic","dy":-1},"encoding":{"y":{"field":"upper","type":"quantitative","title":"Specific Mean Fluorescence"},"text":{"field":"sig"}}}
]},
{"width":255,"height":169,"view":{"stroke":null},
"title":{"text":"C. HLA-DR","anchor":"start","frame":"group","dx":-27,"fontSize":13,"fontWeight":"bold","color":"black","offset":16},
"data":{"name":"bars"},"transform":[{"filter":"datum.panel == 'C'"}],
"encoding":{"x":{"field":"dep","type":"ordinal","sort":["0","1","3"],"scale":{"paddingInner":0.31,"paddingOuter":0.17},"axis":{"title":"DEP (µg/ml)","labelAngle":0,"labelFontSize":12,"labelFontWeight":"bold","labelColor":"black","titleFontSize":12,"titleFontWeight":"bold","titleColor":"black","domain":true,"domainColor":"black","domainWidth":1.5,"tickColor":"black","tickWidth":1.5,"tickSize":5,"labelPadding":3,"titlePadding":8}}},
"layer":[
{"mark":{"type":"bar","color":"black"},"encoding":{"y":{"field":"mean","type":"quantitative","title":"Specific Mean Fluorescence","scale":{"domain":[0,30],"nice":false},"axis":{"values":[0,10,20,30],"format":"d","labelFontSize":12,"labelFontWeight":"bold","labelColor":"black","titleFontSize":12,"titleFontWeight":"bold","titleColor":"black","domain":true,"domainColor":"black","domainWidth":1.5,"tickColor":"black","tickWidth":1.5,"tickSize":6,"labelPadding":2,"titlePadding":4}}}},
{"mark":{"type":"rule","color":"black","strokeWidth":1.5},"encoding":{"y":{"field":"mean","type":"quantitative","title":"Specific Mean Fluorescence"},"y2":{"field":"upper"}}},
{"mark":{"type":"tick","color":"black","thickness":1.5,"size":32},"encoding":{"y":{"field":"upper","type":"quantitative","title":"Specific Mean Fluorescence"}}},
{"mark":{"type":"text","fontSize":13,"fontWeight":"bold","baseline":"alphabetic","dy":-1},"encoding":{"y":{"field":"upper","type":"quantitative","title":"Specific Mean Fluorescence"},"text":{"field":"sig"}}}
]},
{"width":255,"height":169,"view":{"stroke":null},
"title":{"text":"D. CD86","anchor":"start","frame":"group","dx":-27,"fontSize":13,"fontWeight":"bold","color":"black","offset":11},
"data":{"name":"bars"},"transform":[{"filter":"datum.panel == 'D'"}],
"encoding":{"x":{"field":"dep","type":"ordinal","sort":["0","1","3"],"scale":{"paddingInner":0.31,"paddingOuter":0.17},"axis":{"title":"DEP (µg/ml)","labelAngle":0,"labelFontSize":12,"labelFontWeight":"bold","labelColor":"black","titleFontSize":12,"titleFontWeight":"bold","titleColor":"black","domain":true,"domainColor":"black","domainWidth":1.5,"tickColor":"black","tickWidth":1.5,"tickSize":5,"labelPadding":3,"titlePadding":8}}},
"layer":[
{"mark":{"type":"bar","color":"black"},"encoding":{"y":{"field":"mean","type":"quantitative","title":"Specific Mean Fluorescence","scale":{"domain":[0,200],"nice":false},"axis":{"values":[0,50,100,150,200],"format":"d","labelFontSize":12,"labelFontWeight":"bold","labelColor":"black","titleFontSize":12,"titleFontWeight":"bold","titleColor":"black","domain":true,"domainColor":"black","domainWidth":1.5,"tickColor":"black","tickWidth":1.5,"tickSize":6,"labelPadding":2,"titlePadding":4}}}},
{"mark":{"type":"rule","color":"black","strokeWidth":1.5},"encoding":{"y":{"field":"mean","type":"quantitative","title":"Specific Mean Fluorescence"},"y2":{"field":"upper"}}},
{"mark":{"type":"tick","color":"black","thickness":1.5,"size":32},"encoding":{"y":{"field":"upper","type":"quantitative","title":"Specific Mean Fluorescence"}}},
{"mark":{"type":"text","fontSize":13,"fontWeight":"bold","baseline":"alphabetic","dy":-1},"encoding":{"y":{"field":"upper","type":"quantitative","title":"Specific Mean Fluorescence"},"text":{"field":"sig"}}}
]}
]
},
{
"spacing":15,
"vconcat":[
{"width":155,"height":1,"view":{"stroke":null},"data":{"name":"spacer"},"mark":{"type":"point","opacity":0}},
{"spacing":88,
"vconcat":[
{"spacing":69,"vconcat":[
{"spacing":9,"hconcat":[
{"width":155,"height":153,
"title":{"text":"Cells","orient":"bottom","anchor":"start","frame":"group","dx":-30,"fontSize":7.5,"fontWeight":"normal","color":"#808080","offset":0},
"layer":[
{"data":{"name":"hist"},"transform":[{"filter":"datum.panel == 'A1'"}],"mark":{"type":"line","clip":true},
"encoding":{
"x":{"field":"fl","type":"quantitative","scale":{"type":"log","domain":[1,10000],"nice":false},"axis":{"title":"FL2-H","values":[1,2,3,4,5,6,7,8,9,10,20,30,40,50,60,70,80,90,100,200,300,400,500,600,700,800,900,1000,2000,3000,4000,5000,6000,7000,8000,9000,10000],"labelExpr":"abs(log(datum.value)/LN10-round(log(datum.value)/LN10))<0.000001 ? '10'+['⁰','¹','²','³','⁴'][round(log(datum.value)/LN10)] : ''","labelOverlap":false,"labelFlush":false,"tickSize":{"condition":{"test":"abs(log(datum.value)/LN10-round(log(datum.value)/LN10))<0.000001","value":4},"value":2}}},
"y":{"field":"pct","type":"quantitative","scale":{"domain":[0,104.5],"nice":false},"axis":{"title":"% of Max","titlePadding":3,"values":[0,20,40,60,80,100],"tickSize":4,"labelOverlap":false}},
"color":{"field":"dep","type":"nominal","scale":{"domain":["No DEP","1 DEP","3 DEP"],"range":["#000000","#000000","#b4b4b4"]},"legend":{"title":null}},
"strokeDash":{"field":"dep","type":"nominal","scale":{"domain":["No DEP","1 DEP","3 DEP"],"range":[[1,0],[6,3],[1,0]]},"legend":{"title":null}},
"strokeWidth":{"field":"dep","type":"ordinal","scale":{"domain":["No DEP","1 DEP","3 DEP"],"range":[2.2,2.2,0.9]},"legend":null}}},
{"data":{"values":[{"label":"IgG"}]},"mark":{"type":"text","align":"right","baseline":"middle","fontSize":16.5,"fontWeight":"bold"},"encoding":{"x":{"datum":4900},"y":{"datum":97,"axis":{"title":"% of Max","titlePadding":3,"values":[0,20,40,60,80,100],"tickSize":4,"labelOverlap":false}},"text":{"field":"label"}}}
]},
{"width":155,"height":153,
"title":{"text":" ","orient":"bottom","fontSize":7.5,"offset":0},
"layer":[
{"data":{"name":"hist"},"transform":[{"filter":"datum.panel == 'A2'"}],"mark":{"type":"line","clip":true},
"encoding":{
"x":{"field":"fl","type":"quantitative","scale":{"type":"log","domain":[1,10000],"nice":false},"axis":{"title":"FL2-H","values":[1,2,3,4,5,6,7,8,9,10,20,30,40,50,60,70,80,90,100,200,300,400,500,600,700,800,900,1000,2000,3000,4000,5000,6000,7000,8000,9000,10000],"labelExpr":"abs(log(datum.value)/LN10-round(log(datum.value)/LN10))<0.000001 ? '10'+['⁰','¹','²','³','⁴'][round(log(datum.value)/LN10)] : ''","labelOverlap":false,"labelFlush":false,"tickSize":{"condition":{"test":"abs(log(datum.value)/LN10-round(log(datum.value)/LN10))<0.000001","value":4},"value":2}}},
"y":{"field":"pct","type":"quantitative","scale":{"domain":[0,104.5],"nice":false},"axis":{"title":null,"values":[0,20,40,60,80,100],"tickSize":4,"labelOverlap":false}},
"color":{"field":"dep","type":"nominal","scale":{"domain":["No DEP","1 DEP","3 DEP"],"range":["#000000","#000000","#b4b4b4"]},"legend":{"title":null}},
"strokeDash":{"field":"dep","type":"nominal","scale":{"domain":["No DEP","1 DEP","3 DEP"],"range":[[1,0],[6,3],[1,0]]},"legend":{"title":null}},
"strokeWidth":{"field":"dep","type":"ordinal","scale":{"domain":["No DEP","1 DEP","3 DEP"],"range":[2.2,2.2,0.9]},"legend":null}}},
{"data":{"values":[{"label":"CD14"}]},"mark":{"type":"text","align":"right","baseline":"middle","fontSize":16.5,"fontWeight":"bold"},"encoding":{"x":{"datum":8900},"y":{"datum":96,"axis":{"title":null,"values":[0,20,40,60,80,100],"tickSize":4,"labelOverlap":false}},"text":{"field":"label"}}}
]}
]},
{"spacing":11,"hconcat":[
{"width":155,"height":153,
"title":{"text":"Cells","orient":"bottom","anchor":"start","frame":"group","dx":-30,"fontSize":7.5,"fontWeight":"normal","color":"#808080","offset":0},
"layer":[
{"data":{"name":"hist"},"transform":[{"filter":"datum.panel == 'B1'"}],"mark":{"type":"line","clip":true},
"encoding":{
"x":{"field":"fl","type":"quantitative","scale":{"type":"log","domain":[1,10000],"nice":false},"axis":{"title":"FL2-H","values":[1,2,3,4,5,6,7,8,9,10,20,30,40,50,60,70,80,90,100,200,300,400,500,600,700,800,900,1000,2000,3000,4000,5000,6000,7000,8000,9000,10000],"labelExpr":"abs(log(datum.value)/LN10-round(log(datum.value)/LN10))<0.000001 ? '10'+['⁰','¹','²','³','⁴'][round(log(datum.value)/LN10)] : ''","labelOverlap":false,"labelFlush":false,"tickSize":{"condition":{"test":"abs(log(datum.value)/LN10-round(log(datum.value)/LN10))<0.000001","value":4},"value":2}}},
"y":{"field":"pct","type":"quantitative","scale":{"domain":[0,104.5],"nice":false},"axis":{"title":"% of Max","titlePadding":3,"values":[0,20,40,60,80,100],"tickSize":4,"labelOverlap":false}},
"color":{"field":"dep","type":"nominal","scale":{"domain":["No DEP","1 DEP","3 DEP"],"range":["#000000","#000000","#b4b4b4"]},"legend":{"title":null}},
"strokeDash":{"field":"dep","type":"nominal","scale":{"domain":["No DEP","1 DEP","3 DEP"],"range":[[1,0],[6,3],[1,0]]},"legend":{"title":null}},
"strokeWidth":{"field":"dep","type":"ordinal","scale":{"domain":["No DEP","1 DEP","3 DEP"],"range":[2.2,2.2,0.9]},"legend":null}}},
{"data":{"values":[{"label":"IgG"}]},"mark":{"type":"text","align":"right","baseline":"middle","fontSize":16.5,"fontWeight":"bold"},"encoding":{"x":{"datum":7400},"y":{"datum":95.5,"axis":{"title":"% of Max","titlePadding":3,"values":[0,20,40,60,80,100],"tickSize":4,"labelOverlap":false}},"text":{"field":"label"}}}
]},
{"width":155,"height":153,
"title":{"text":"Cells","orient":"bottom","anchor":"start","frame":"group","dx":-19,"fontSize":7.5,"fontWeight":"normal","color":"#808080","offset":0},
"layer":[
{"data":{"name":"hist"},"transform":[{"filter":"datum.panel == 'B2'"}],"mark":{"type":"line","clip":true},
"encoding":{
"x":{"field":"fl","type":"quantitative","scale":{"type":"log","domain":[1,10000],"nice":false},"axis":{"title":"FL2-H","values":[1,2,3,4,5,6,7,8,9,10,20,30,40,50,60,70,80,90,100,200,300,400,500,600,700,800,900,1000,2000,3000,4000,5000,6000,7000,8000,9000,10000],"labelExpr":"abs(log(datum.value)/LN10-round(log(datum.value)/LN10))<0.000001 ? '10'+['⁰','¹','²','³','⁴'][round(log(datum.value)/LN10)] : ''","labelOverlap":false,"labelFlush":false,"tickSize":{"condition":{"test":"abs(log(datum.value)/LN10-round(log(datum.value)/LN10))<0.000001","value":4},"value":2}}},
"y":{"field":"pct","type":"quantitative","scale":{"domain":[0,104.5],"nice":false},"axis":{"title":null,"values":[0,20,40,60,80,100],"tickSize":4,"labelOverlap":false}},
"color":{"field":"dep","type":"nominal","scale":{"domain":["No DEP","1 DEP","3 DEP"],"range":["#000000","#000000","#b4b4b4"]},"legend":{"title":null}},
"strokeDash":{"field":"dep","type":"nominal","scale":{"domain":["No DEP","1 DEP","3 DEP"],"range":[[1,0],[6,3],[1,0]]},"legend":{"title":null}},
"strokeWidth":{"field":"dep","type":"ordinal","scale":{"domain":["No DEP","1 DEP","3 DEP"],"range":[2.2,2.2,0.9]},"legend":null}}},
{"data":{"values":[{"label":"CD11b"}]},"mark":{"type":"text","align":"right","baseline":"middle","fontSize":16.5,"fontWeight":"bold"},"encoding":{"x":{"datum":7900},"y":{"datum":95.5,"axis":{"title":null,"values":[0,20,40,60,80,100],"tickSize":4,"labelOverlap":false}},"text":{"field":"label"}}}
]}
]}
]},
{"spacing":67,"vconcat":[
{"spacing":4,"hconcat":[
{"width":155,"height":153,
"title":{"text":"Cells","orient":"bottom","anchor":"start","frame":"group","dx":-30,"fontSize":7.5,"fontWeight":"normal","color":"#808080","offset":0},
"layer":[
{"data":{"name":"hist"},"transform":[{"filter":"datum.panel == 'C1'"}],"mark":{"type":"line","clip":true},
"encoding":{
"x":{"field":"fl","type":"quantitative","scale":{"type":"log","domain":[1,10000],"nice":false},"axis":{"title":"FL2-H","values":[1,2,3,4,5,6,7,8,9,10,20,30,40,50,60,70,80,90,100,200,300,400,500,600,700,800,900,1000,2000,3000,4000,5000,6000,7000,8000,9000,10000],"labelExpr":"abs(log(datum.value)/LN10-round(log(datum.value)/LN10))<0.000001 ? '10'+['⁰','¹','²','³','⁴'][round(log(datum.value)/LN10)] : ''","labelOverlap":false,"labelFlush":false,"tickSize":{"condition":{"test":"abs(log(datum.value)/LN10-round(log(datum.value)/LN10))<0.000001","value":4},"value":2}}},
"y":{"field":"pct","type":"quantitative","scale":{"domain":[0,104.5],"nice":false},"axis":{"title":"% of Max","titlePadding":3,"values":[0,20,40,60,80,100],"tickSize":4,"labelOverlap":false}},
"color":{"field":"dep","type":"nominal","scale":{"domain":["No DEP","1 DEP","3 DEP"],"range":["#000000","#000000","#b4b4b4"]},"legend":{"title":null}},
"strokeDash":{"field":"dep","type":"nominal","scale":{"domain":["No DEP","1 DEP","3 DEP"],"range":[[1,0],[6,3],[1,0]]},"legend":{"title":null}},
"strokeWidth":{"field":"dep","type":"ordinal","scale":{"domain":["No DEP","1 DEP","3 DEP"],"range":[2.2,2.2,0.9]},"legend":null}}},
{"data":{"values":[{"label":"IgG"}]},"mark":{"type":"text","align":"right","baseline":"middle","fontSize":16.5,"fontWeight":"bold"},"encoding":{"x":{"datum":8900},"y":{"datum":97,"axis":{"title":"% of Max","titlePadding":3,"values":[0,20,40,60,80,100],"tickSize":4,"labelOverlap":false}},"text":{"field":"label"}}}
]},
{"width":155,"height":153,
"title":{"text":"Cells","orient":"bottom","anchor":"start","frame":"group","dx":-30,"fontSize":7.5,"fontWeight":"normal","color":"#808080","offset":0},
"layer":[
{"data":{"name":"hist"},"transform":[{"filter":"datum.panel == 'C2'"}],"mark":{"type":"line","clip":true},
"encoding":{
"x":{"field":"fl","type":"quantitative","scale":{"type":"log","domain":[1,10000],"nice":false},"axis":{"title":"FL2-H","values":[1,2,3,4,5,6,7,8,9,10,20,30,40,50,60,70,80,90,100,200,300,400,500,600,700,800,900,1000,2000,3000,4000,5000,6000,7000,8000,9000,10000],"labelExpr":"abs(log(datum.value)/LN10-round(log(datum.value)/LN10))<0.000001 ? '10'+['⁰','¹','²','³','⁴'][round(log(datum.value)/LN10)] : ''","labelOverlap":false,"labelFlush":false,"tickSize":{"condition":{"test":"abs(log(datum.value)/LN10-round(log(datum.value)/LN10))<0.000001","value":4},"value":2}}},
"y":{"field":"pct","type":"quantitative","scale":{"domain":[0,104.5],"nice":false},"axis":{"title":"% of Max","titlePadding":0,"values":[0,20,40,60,80,100],"tickSize":4,"labelOverlap":false}},
"color":{"field":"dep","type":"nominal","scale":{"domain":["No DEP","1 DEP","3 DEP"],"range":["#000000","#000000","#b4b4b4"]},"legend":{"title":null}},
"strokeDash":{"field":"dep","type":"nominal","scale":{"domain":["No DEP","1 DEP","3 DEP"],"range":[[1,0],[6,3],[1,0]]},"legend":{"title":null}},
"strokeWidth":{"field":"dep","type":"ordinal","scale":{"domain":["No DEP","1 DEP","3 DEP"],"range":[2.2,2.2,0.9]},"legend":null}}},
{"data":{"values":[{"label":"HLA-DR"}]},"mark":{"type":"text","align":"right","baseline":"middle","fontSize":16.5,"fontWeight":"bold"},"encoding":{"x":{"datum":9400},"y":{"datum":97,"axis":{"title":"% of Max","titlePadding":0,"values":[0,20,40,60,80,100],"tickSize":4,"labelOverlap":false}},"text":{"field":"label"}}}
]}
]},
{"spacing":16,"hconcat":[
{"width":155,"height":153,
"title":{"text":"Cells","orient":"bottom","anchor":"start","frame":"group","dx":-30,"fontSize":7.5,"fontWeight":"normal","color":"#808080","offset":0},
"layer":[
{"data":{"name":"hist"},"transform":[{"filter":"datum.panel == 'D1'"}],"mark":{"type":"line","clip":true},
"encoding":{
"x":{"field":"fl","type":"quantitative","scale":{"type":"log","domain":[1,10000],"nice":false},"axis":{"title":"FL2-H","values":[1,2,3,4,5,6,7,8,9,10,20,30,40,50,60,70,80,90,100,200,300,400,500,600,700,800,900,1000,2000,3000,4000,5000,6000,7000,8000,9000,10000],"labelExpr":"abs(log(datum.value)/LN10-round(log(datum.value)/LN10))<0.000001 ? '10'+['⁰','¹','²','³','⁴'][round(log(datum.value)/LN10)] : ''","labelOverlap":false,"labelFlush":false,"tickSize":{"condition":{"test":"abs(log(datum.value)/LN10-round(log(datum.value)/LN10))<0.000001","value":4},"value":2}}},
"y":{"field":"pct","type":"quantitative","scale":{"domain":[0,104.5],"nice":false},"axis":{"title":"% of Max","titlePadding":3,"values":[0,20,40,60,80,100],"tickSize":4,"labelOverlap":false}},
"color":{"field":"dep","type":"nominal","scale":{"domain":["No DEP","1 DEP","3 DEP"],"range":["#000000","#000000","#b4b4b4"]},"legend":{"title":null}},
"strokeDash":{"field":"dep","type":"nominal","scale":{"domain":["No DEP","1 DEP","3 DEP"],"range":[[1,0],[6,3],[1,0]]},"legend":{"title":null}},
"strokeWidth":{"field":"dep","type":"ordinal","scale":{"domain":["No DEP","1 DEP","3 DEP"],"range":[2.2,2.2,0.9]},"legend":null}}},
{"data":{"values":[{"label":"IgG"}]},"mark":{"type":"text","align":"right","baseline":"middle","fontSize":16.5,"fontWeight":"bold"},"encoding":{"x":{"datum":6600},"y":{"datum":91,"axis":{"title":"% of Max","titlePadding":3,"values":[0,20,40,60,80,100],"tickSize":4,"labelOverlap":false}},"text":{"field":"label"}}}
]},
{"width":155,"height":153,
"layer":[
{"data":{"name":"hist"},"transform":[{"filter":"datum.panel == 'D2'"}],"mark":{"type":"line","clip":true},
"encoding":{
"x":{"field":"fl","type":"quantitative","scale":{"type":"log","domain":[1,10000],"nice":false},"axis":{"title":"FL2-H","values":[1,2,3,4,5,6,7,8,9,10,20,30,40,50,60,70,80,90,100,200,300,400,500,600,700,800,900,1000,2000,3000,4000,5000,6000,7000,8000,9000,10000],"labelExpr":"abs(log(datum.value)/LN10-round(log(datum.value)/LN10))<0.000001 ? '10'+['⁰','¹','²','³','⁴'][round(log(datum.value)/LN10)] : ''","labelOverlap":false,"labelFlush":false,"tickSize":{"condition":{"test":"abs(log(datum.value)/LN10-round(log(datum.value)/LN10))<0.000001","value":4},"value":2}}},
"y":{"field":"pct","type":"quantitative","scale":{"domain":[0,104.5],"nice":false},"axis":{"title":null,"labels":false,"values":[0,20,40,60,80,100],"tickSize":4}},
"color":{"field":"dep","type":"nominal","scale":{"domain":["No DEP","1 DEP","3 DEP"],"range":["#000000","#000000","#b4b4b4"]},"legend":{"title":null}},
"strokeDash":{"field":"dep","type":"nominal","scale":{"domain":["No DEP","1 DEP","3 DEP"],"range":[[1,0],[6,3],[1,0]]},"legend":{"title":null}},
"strokeWidth":{"field":"dep","type":"ordinal","scale":{"domain":["No DEP","1 DEP","3 DEP"],"range":[2.2,2.2,0.9]},"legend":null}}},
{"data":{"values":[{"label":"CD86"}]},"mark":{"type":"text","align":"right","baseline":"middle","fontSize":16.5,"fontWeight":"bold"},"encoding":{"x":{"datum":7900},"y":{"datum":93,"axis":{"title":null,"labels":false,"values":[0,20,40,60,80,100],"tickSize":4}},"text":{"field":"label"}}}
]}
]}
]}
]}
]
}
],
"config":{
"font":"Liberation Sans",
"view":{"stroke":"#9a9a9a","strokeWidth":1},
"axis":{"grid":false,"domain":false,"labelColor":"#808080","titleColor":"#808080","tickColor":"#8c8c8c","tickWidth":0.8,"labelFontSize":8.5,"titleFontSize":8.5,"titleFontWeight":"normal","labelPadding":1,"titlePadding":2},
"axisY":{"labelOverlap":false},
"legend":{"orient":"none","legendX":323,"legendY":-51.7,"direction":"horizontal","columns":3,"symbolType":"stroke","symbolSize":3600,"symbolStrokeWidth":3,"labelFontSize":13,"labelFontWeight":"bold","labelColor":"black","labelOffset":6,"columnPadding":4}
}
}
